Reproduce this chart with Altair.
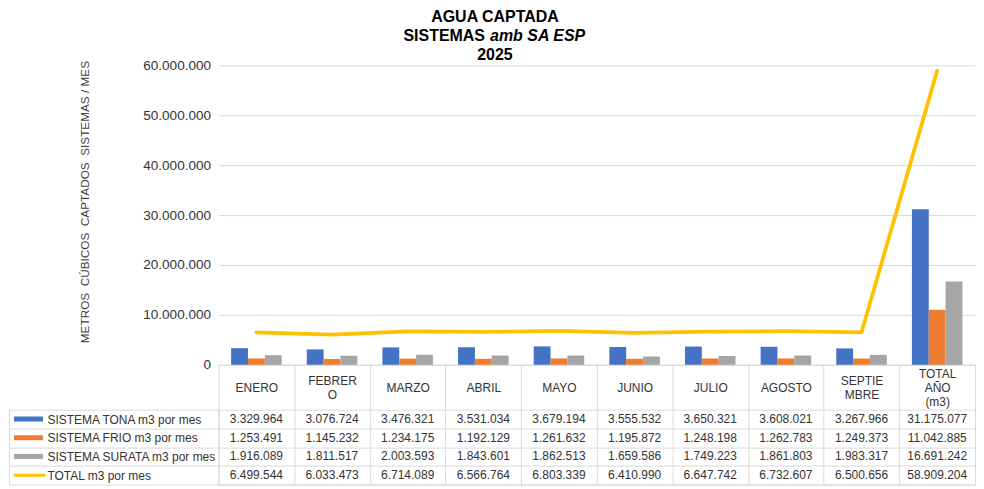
import altair as alt
import pandas as pd

# ---------------- data ----------------
categories = ["ENERO", "FEBRERO", "MARZO", "ABRIL", "MAYO", "JUNIO",
              "JULIO", "AGOSTO", "SEPTIEMBRE", "TOTAL AÑO (m3)"]
header_lines = [["ENERO"], ["FEBRER", "O"], ["MARZO"], ["ABRIL"], ["MAYO"],
                ["JUNIO"], ["JULIO"], ["AGOSTO"], ["SEPTIE", "MBRE"],
                ["TOTAL", "AÑO", "(m3)"]]
series = ["SISTEMA TONA m3 por mes", "SISTEMA FRIO m3 por mes",
          "SISTEMA SURATA m3 por mes", "TOTAL m3 por mes"]
tona = [3329964, 3076724, 3476321, 3531034, 3679194, 3555532, 3650321, 3608021, 3267966, 31175077]
frio = [1253491, 1145232, 1234175, 1192129, 1261632, 1195872, 1248198, 1262783, 1249373, 11042885]
surata = [1916089, 1811517, 2003593, 1843601, 1862513, 1659586, 1749223, 1861803, 1983317, 16691242]
total = [6499544, 6033473, 6714089, 6566764, 6803339, 6410990, 6647742, 6732607, 6500656, 58909204]
colors = ["#4472C4", "#ED7D31", "#A5A5A5", "#FFC000"]
y_ticks = [0, 10000000, 20000000, 30000000, 40000000, 50000000, 60000000]

rows = []
for s, vals in zip(series, [tona, frio, surata, total]):
    for c, v in zip(categories, vals):
        rows.append({"cat": c, "series": s, "value": v})
df = pd.DataFrame(rows)
df_series = pd.DataFrame({"series": series})

FONT = "Liberation Sans"
GRID = "#d9d9d9"
TXT = "#333333"
W = 758          # plot width
LEFT = 210       # width of the table's label column
TH = 75          # table height (4 rows)
LH = 14
NB = "\u00a0"

# ---------------- scales ----------------
x_scale = alt.Scale(domain=categories, paddingInner=0, paddingOuter=0)
color_scale = alt.Scale(domain=series, range=colors)
row_scale = alt.Scale(domain=series, paddingInner=0, paddingOuter=0)

# multi-line header labels, vertically centred in the header cell
expr = "datum.value"
pad_conditions = []
for c, lines in zip(categories, header_lines):
    if len(lines) > 1:
        arr = "[" + ",".join("'" + l + "'" for l in lines) + "]"
        expr = f"datum.value == '{c}' ? {arr} : (" + expr + ")"
        pad_conditions.append({"test": f"datum.value == '{c}'",
                               "value": -22.5 - (len(lines) - 1) * LH / 2})

x_axis_main = alt.Axis(title=None, labelAngle=0, labelExpr=expr, labelFontSize=12,
                       labelColor=TXT, labelFont=FONT, labelBaseline="middle",
                       labelLineHeight=LH,
                       labelPadding={"condition": pad_conditions, "value": -22.5},
                       labelOverlap=False,
                       ticks=True, tickBand="extent", tickSize=45, tickColor=GRID,
                       domain=True, domainColor=GRID, grid=False)

y_title = f"METROS{NB} CÚBICOS{NB} CAPTADOS{NB} SISTEMAS / MES"
y_axis_main = alt.Axis(values=y_ticks, format=",d", grid=True, gridColor=GRID,
                       domain=False, ticks=False, tickSize=0, labelFontSize=13.6,
                       labelColor=TXT, labelFont=FONT, labelPadding=8,
                       title=y_title,
                       titleFont=FONT, titleFontSize=11.8, titleFontWeight="normal",
                       titleColor="#404040", titleX=-134, titleY=136.5, titleAngle=270,
                       titleAlign="center", titleBaseline="middle")

bars = alt.Chart(df).transform_filter(
    alt.FieldOneOfPredicate(field="series", oneOf=series[:3])
).mark_bar().encode(
    x=alt.X("cat:N", scale=x_scale, axis=x_axis_main),
    xOffset=alt.XOffset("series:N", scale=alt.Scale(domain=series[:3], paddingInner=0, paddingOuter=0.745)),
    y=alt.Y("value:Q", scale=alt.Scale(domain=[0, 60000000], nice=False), axis=y_axis_main),
    color=alt.Color("series:N", scale=color_scale, legend=None),
)

line = alt.Chart(df).transform_filter(
    alt.FieldEqualPredicate(field="series", equal=series[3])
).mark_line(color=colors[3], strokeWidth=3.75, strokeCap="round", strokeJoin="round").encode(
    x=alt.X("cat:N", scale=x_scale),
    y=alt.Y("value:Q"),
)


def ttext(txt, x, y, align="center", italic=False):
    kw = dict(text=txt, font=FONT, fontSize=16, fontWeight="bold", align=align,
              baseline="alphabetic", color="black")
    if italic:
        kw["fontStyle"] = "italic"
    return alt.Chart(alt.Data(values=[{}])).mark_text(**kw).encode(
        x=alt.value(x), y=alt.value(y))


title_layers = [
    ttext("AGUA CAPTADA", 277, -43),
    ttext("SISTEMAS", 267, -24.5, align="right"),
    ttext("amb SA ESP", 272, -24.5, align="left", italic=True),
    ttext("2025", 277, -5.5),
]

main = alt.layer(bars, line, *title_layers).properties(width=W, height=300)

# ---------------- data table ----------------
x_axis_table = alt.Axis(title=None, labels=False, ticks=False, domain=True,
                        domainColor=GRID, grid=True, gridColor=GRID, tickBand="extent")
y_axis_table = alt.Axis(title=None, tickBand="extent", ticks=True, tickSize=LEFT,
                        tickColor=GRID, domain=True, domainColor=GRID, grid=True,
                        gridColor=GRID, labelAlign="left", labelPadding=-38,
                        labelBaseline="middle", labelFontSize=12, labelColor=TXT,
                        labelFont=FONT, labelLimit=0, labelOverlap=False,
                        labelExpr="datum.value == 'SISTEMA TONA m3 por mes' ? '\u00a0SISTEMA TONA m3 por mes' : datum.label")

cells = alt.Chart(df).mark_text(fontSize=12, color=TXT, font=FONT).encode(
    x=alt.X("cat:N", scale=x_scale, axis=x_axis_table),
    y=alt.Y("series:N", scale=row_scale, axis=y_axis_table),
    text=alt.Text("value:Q", format=",d"),
)

sw_bars = alt.Chart(df_series).transform_filter(
    alt.FieldOneOfPredicate(field="series", oneOf=series[:3])
).mark_rule(strokeWidth=5).encode(
    x=alt.value(-205), x2=alt.value(-176),
    y=alt.Y("series:N", scale=row_scale),
    color=alt.Color("series:N", scale=color_scale, legend=None),
)
sw_line = alt.Chart(df_series).transform_filter(
    alt.FieldEqualPredicate(field="series", equal=series[3])
).mark_rule(strokeWidth=3, strokeCap="round").encode(
    x=alt.value(-204), x2=alt.value(-175),
    y=alt.Y("series:N", scale=row_scale),
    color=alt.Color("series:N", scale=color_scale, legend=None),
)
left_border = alt.Chart(alt.Data(values=[{}])).mark_rule(color=GRID).encode(
    x=alt.value(-LEFT + 0.5), y=alt.value(0), y2=alt.value(TH))

table = alt.layer(cells, sw_bars, sw_line, left_border).properties(width=W, height=TH)

chart = alt.vconcat(main, table, spacing=45, bounds="flush").properties(
    padding={"left": 0, "top": 0, "right": 0, "bottom": 0}
).configure(
    locale={"number": {"decimal": ",", "thousands": ".", "grouping": [3], "currency": ["$", ""]}}
).configure_view(stroke="transparent")

chart.save("out.html", embed_options={"renderer": "svg", "actions": False})
